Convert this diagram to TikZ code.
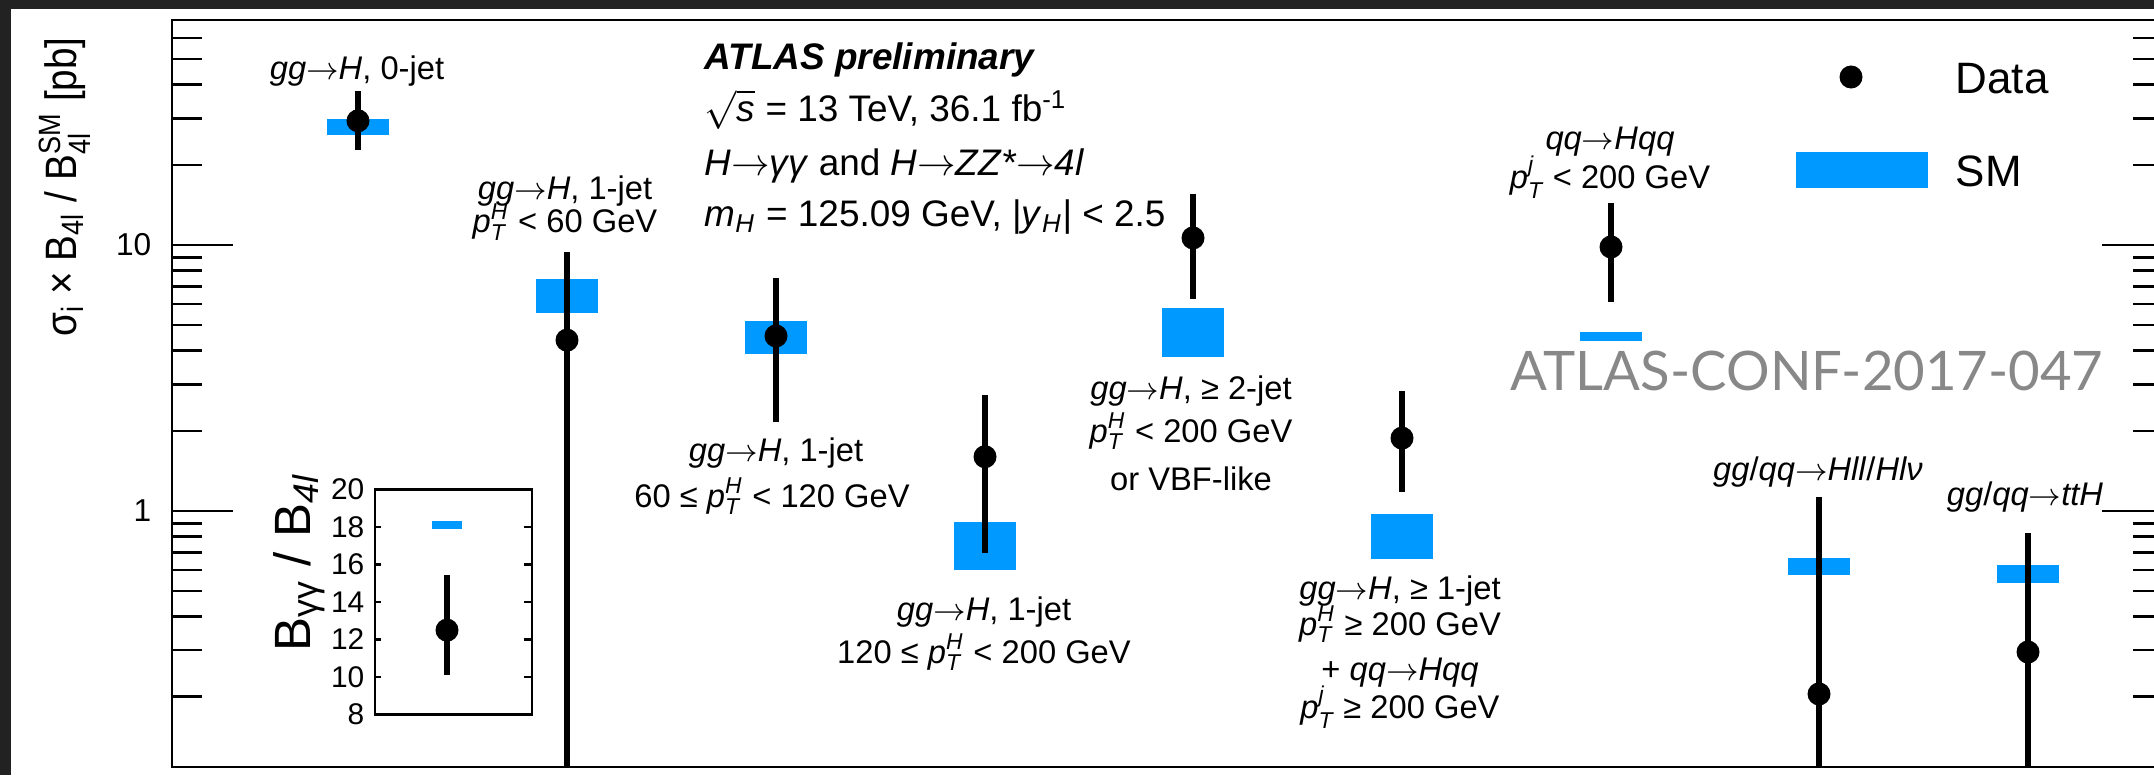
\documentclass[tikz,border=0pt]{standalone}
\usepackage{fontspec}
\usepackage{amsmath}
\usepackage{graphicx}
\usepackage{xcolor}
\setmainfont{Liberation Sans}
\newfontfamily\conffont{Lato}
\usetikzlibrary{positioning}
\definecolor{smblue}{RGB}{0,153,255}
\definecolor{bandgray}{RGB}{34,34,34}
\definecolor{confgray}{RGB}{136,136,136}
\newcommand{\goes}{$\mathord{\rightarrow}$}
\newcommand{\ptH}{\textit{p}$^{\textit{H}}_{\textit{T}}$}
\newcommand{\ptj}{\textit{p}$^{\textit{j}}_{\textit{T}}$}
\newcommand{\ggH}{\textit{gg}\goes\textit{H}}

\begin{document}
\begin{tikzpicture}[x=0.01cm,y=0.01cm,
  declare function={ly(\v)=264+266*log10(\v); yin(\v)=60.5+18.75*(\v-8);},
  axis/.style={line width=0.8pt},
  errbar/.style={line width=1.45pt},
  dot/.style={circle,fill=black,inner sep=0pt,minimum size=0.23cm},
  lab/.style={anchor=base,inner sep=0pt,font=\fontsize{9.3}{10.5}\selectfont},
  info/.style={anchor=base west,inner sep=0pt,font=\fontsize{10.5}{12}\selectfont},
  ticklab/.style={anchor=east,inner sep=0pt,font=\fontsize{9}{10}\selectfont},
  legtext/.style={anchor=base west,inner sep=0pt,font=\fontsize{12.5}{14}\selectfont}]
  \useasboundingbox (0,0) rectangle (2154,775);
  \clip (0,0) rectangle (2154,775);
  \fill[bandgray] (0,766) rectangle (2154,775);
  \fill[bandgray] (0,0) rectangle (11,775);

  % frame and log ticks
  \draw[axis] (172,8) rectangle (2163,755);
  \foreach \v in {0.2,0.3,0.4,0.5,0.6,0.7,0.8,0.9,2,3,4,5,6,7,8,9,20,30,40,50,60}
    \draw[axis] (172,{ly(\v)}) -- ++(30,0) (2163,{ly(\v)}) -- ++(-30,0);
  \foreach \v in {1,10}
    \draw[axis] (172,{ly(\v)}) -- ++(61,0) (2163,{ly(\v)}) -- ++(-61,0);
  \node[ticklab] (y10) at (152,{ly(10)}) {10};
  \node[ticklab] (y1) at (152,{ly(1)}) {1};
  \node[rotate=90,anchor=base,inner sep=0pt,font=\fontsize{12.5}{14}\selectfont] (ylab) at (76,588)
    {\scalebox{0.88}[1]{σ$_{\text{i}}$ × B$_{\text{4l}}$ / B$^{\text{SM}}_{\text{4l}}$ [pb]}};

  % SM band, data and error per category
  \foreach \cx/\smlo/\smhi/\dv/\elo/\ehi [count=\i] in
    {358/25.9/29.8/29.3/22.8/37.9, 567/5.55/7.45/4.39/0.109/9.41,
     776/3.89/5.18/4.55/2.16/7.51, 985/0.600/0.909/1.60/0.695/2.73,
     1193/3.79/5.80/10.63/6.27/15.6, 1402/0.660/0.974/1.88/1.18/2.83,
     1611/4.36/4.71/9.83/6.10/14.4, 1819/0.574/0.666/0.205/0.109/1.13,
     2028/0.536/0.627/0.295/0.109/0.827} {
    \fill[smblue] ({\cx-31},{ly(\smlo)}) rectangle ({\cx+31},{ly(\smhi)});
    \draw[errbar] (\cx,{ly(\elo)}) -- (\cx,{ly(\ehi)});
    \node[dot] (d\i) at (\cx,{ly(\dv)}) {};
  }

  % category labels
  \node[lab] (c1a) at (357,695) {\ggH, 0-jet};
  \node[lab] (c2a) at (565,575) {\ggH, 1-jet};
  \node[lab] (c2b) at (565,542) {\ptH{} < 60 GeV};
  \node[lab] (c3a) at (776,314) {\ggH, 1-jet};
  \node[lab] (c3b) at (772,268) {60 ≤ \ptH{} < 120 GeV};
  \node[lab] (c4a) at (984,155) {\ggH, 1-jet};
  \node[lab] (c4b) at (984,112) {120 ≤ \ptH{} < 200 GeV};
  \node[lab] (c5a) at (1191,376) {\ggH, ≥ 2-jet};
  \node[lab] (c5b) at (1191,333) {\ptH{} < 200 GeV};
  \node[lab] (c5c) at (1191,285) {or VBF-like};
  \node[lab] (c6a) at (1400,176) {\ggH, ≥ 1-jet};
  \node[lab] (c6b) at (1400,140) {\ptH{} ≥ 200 GeV};
  \node[lab] (c6c) at (1400,95) {+ \textit{qq}\goes\textit{Hqq}};
  \node[lab] (c6d) at (1400,57) {\ptj{} ≥ 200 GeV};
  \node[lab] (c7a) at (1610,625) {\textit{qq}\goes\textit{Hqq}};
  \node[lab] (c7b) at (1610,587) {\ptj{} < 200 GeV};
  \node[lab] (c8a) at (1818,295) {\textit{gg}/\textit{qq}\goes\textit{Hll}/\textit{Hlν}};
  \node[lab] (c9a) at (2025,270) {\textit{gg}/\textit{qq}\goes\textit{ttH}};

  % experiment info
  \node[info,font=\fontsize{10.5}{12}\selectfont\bfseries\itshape] (atlas) at (704,705) {ATLAS preliminary};
  \node[info] (sqrts) at (704,653) {$\sqrt{\text{\textit{s}}}$ = 13 TeV, 36.1 fb$^{\text{-1}}$};
  \node[info] (decay) at (704,600) {\textit{H}\goes\textit{γγ} and \textit{H}\goes\textit{ZZ*}\goes\textit{4l}};
  \node[info] (mass) at (704,548) {\textit{m}$_{\textit{H}}$ = 125.09 GeV, |\textit{y}$_{\textit{H}}$| < 2.5};

  % legend
  \node[dot] (ldot) at (1851,698) {};
  \node[fill=smblue,inner sep=0pt,minimum width=1.31cm,minimum height=0.36cm] (lbox) at (1862,605) {};
  \node[legtext] (ldata) at (1955,682) {Data};
  \node[legtext] (lsm) at (1955,588) {SM};

  \node[anchor=base east,inner sep=0pt,font=\conffont\fontsize{15.5}{18}\selectfont,text=confgray] (conf) at (2104,385) {ATLAS-CONF-2017-047};

  % diphoton / four-lepton ratio inset
  \draw[axis] (375,60.5) rectangle (532,285.5);
  \foreach \v in {10,12,...,18}
    \draw[axis] (375,{yin(\v)}) -- ++(6,0) (532,{yin(\v)}) -- ++(-8,0);
  \foreach \v in {8,10,...,20}
    \node[ticklab,font=\fontsize{8.5}{10}\selectfont] (in\v) at (365,{yin(\v)}) {\v};
  \fill[smblue] (432,{yin(17.9)}) rectangle (462,{yin(18.3)});
  \draw[errbar] (447,{yin(10.1)}) -- (447,{yin(15.45)});
  \node[dot] (din) at (447,{yin(12.5)}) {};
  \node[rotate=90,anchor=base,inner sep=0pt,font=\fontsize{14.5}{17}\selectfont] (inlab) at (310,212)
    {B$_{\text{γγ}}$ / B$_{\textit{4l}}$};
\end{tikzpicture}
\end{document}
